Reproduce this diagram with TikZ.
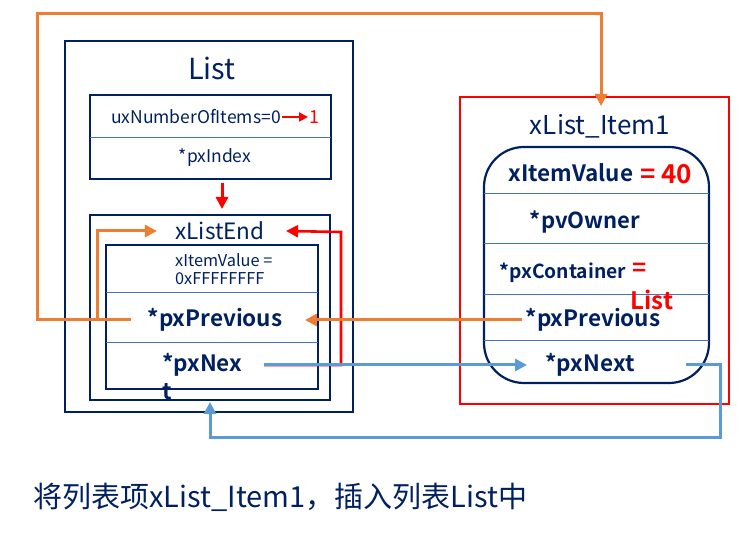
\documentclass[tikz,border=0pt]{standalone}
\usepackage{fontspec}
\setmainfont{Noto Sans CJK SC}[BoldFont={Noto Sans CJK SC Bold}]
\usetikzlibrary{arrows.meta}
\definecolor{navy}{HTML}{002060}
\definecolor{sepblue}{HTML}{4472C4}
\definecolor{linkblue}{HTML}{5B9BD5}
\definecolor{linkorange}{HTML}{ED7D31}
\newcommand{\fs}[1]{\fontsize{#1}{#1}\selectfont}
\tikzset{
  box/.style={draw=navy,line width=2.2pt},
  sep/.style={draw=sepblue,line width=0.9pt},
  fld/.style={text=navy,font=\fs{17.5}},
  bfld/.style={text=navy,font=\bfseries\fs{22.5}},
  ptr/.style={line width=3pt,-{Triangle[length=12pt,width=12pt]}},
  redtxt/.style={text=red,font=\bfseries\fs{24}}
}
\begin{document}
\begin{tikzpicture}[x=1pt,y=-1pt,line cap=butt]
  \useasboundingbox (0,0) rectangle (755,534);
  % list
  \draw[box] (65,41) rectangle (353,412);
  \node[navy,font=\fs{29}] (list) at (212,68) {List};
  \draw[box] (90,95) rectangle (331,179);
  \draw[sep] (90,137) -- (331,137);
  \node[fld,anchor=east,inner sep=1pt] (num) at (282,117) {uxNumberOfItems=0};
  \node[text=red,font=\fs{18},anchor=west,inner sep=1pt] (one) at (308,117) {1};
  \draw[red,line width=1.8pt,-{Triangle[length=9pt,width=9pt]}] (num.east) -- (one.west);
  \node[fld] (idx) at (215,158) {*pxIndex};
  \coordinate (idxb) at (222,183);
  \coordinate (endt) at (222,209);
  \draw[red,ptr] (idxb) -- (endt);
  % xListEnd
  \draw[box] (90,215) rectangle (330,400);
  \node[navy,font=\fs{22.5}] (lend) at (220,231) {xListEnd};
  \draw[box] (106,245) rectangle (318,389);
  \draw[sep] (106,292) -- (318,292);
  \draw[sep] (106,342) -- (318,342);
  \node[fld,font=\fs{16.3},align=left,anchor=north west,inner sep=0pt] (endval) at (175,253) {xItemValue =\\[2pt]0xFFFFFFFF};
  \node[bfld] (eprev) at (215,320) {*pxPrevious};
  \node[bfld,align=left,anchor=north west,inner sep=0pt] (enext) at (162,353) {*pxNex\\[6pt]t};
  \coordinate (nx) at (264,365);
  % xList_Item1
  \draw[red,line width=2pt] (460,97) rectangle (729,404);
  \node[navy,font=\fs{26}] (ititle) at (600,126) {xList\_Item1};
  \draw[box,rounded corners=40pt] (484,147) rectangle (709,383);
  \foreach \y in {193,243,294,340}
    \draw[sep] (484,\y) -- (709,\y);
  \node[bfld,font=\bfseries\fs{22.5}] (ival) at (571,173) {xItemValue};
  \node[redtxt,font=\bfseries\fs{26}] (i40) at (666,174) {= 40};
  \node[bfld,font=\bfseries\fs{22}] (iown) at (585,222) {*pvOwner};
  \node[bfld,font=\bfseries\fs{19.3}] (icont) at (563,273) {*pxContainer};
  \node[redtxt] (ieq) at (640,270) {=};
  \node[redtxt] (ilist) at (652,300) {List};
  \node[bfld] (iprev) at (593,320) {*pxPrevious};
  \node[bfld] (inext) at (590,365) {*pxNext};
  \coordinate (itop) at (601,106);
  % links
  \draw[linkorange,ptr] ([xshift=-13pt]eprev.west) -| (37,14) -| (itop);
  \draw[linkorange,ptr] (97,320) |- ([xshift=-15pt]lend.west);
  \draw[red,ptr,line width=2.6pt] (nx) -| (341,232) -- ([xshift=18pt]lend.east);
  \draw[linkblue,ptr] (nx) -- ([xshift=-15pt]inext.west);
  \draw[linkblue,ptr] ([xshift=48pt]inext.east) -| (720,437) -| (210,402);
  \draw[linkorange,ptr] (iprev.west) -- ([xshift=19pt]eprev.east);
  % caption
  \node[navy,font=\fs{29},anchor=west] (cap) at (30,497) {将列表项xList\_Item1，插入列表List中};
\end{tikzpicture}
\end{document}
